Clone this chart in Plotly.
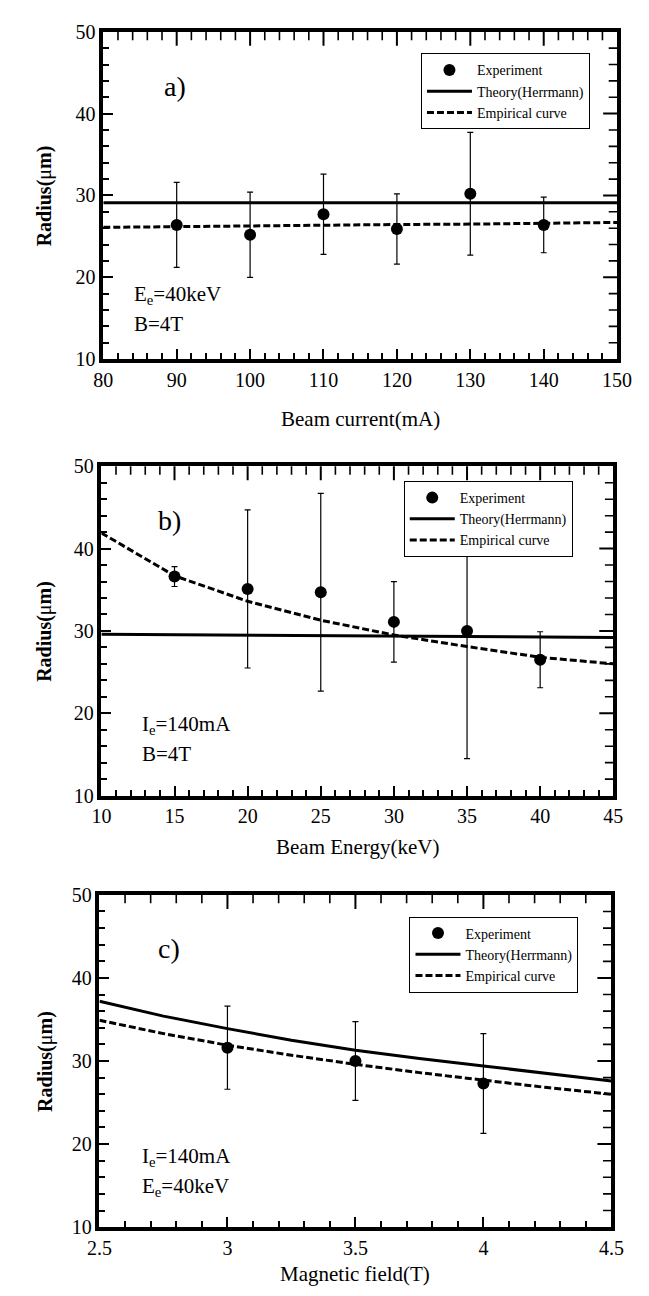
import plotly.graph_objects as go

# ---------------- data ----------------
a_x = [90, 100, 110, 120, 130, 140]
a_y = [26.4, 25.2, 27.7, 25.9, 30.2, 26.4]
a_err = [5.2, 5.2, 4.9, 4.3, 7.5, 3.4]
a_theory_x = [80, 150]
a_theory_y = [29.1, 29.1]
a_emp_x = [80, 90, 100, 110, 120, 130, 140, 150]
a_emp_y = [26.1, 26.2, 26.3, 26.4, 26.45, 26.5, 26.6, 26.7]

b_x = [15, 20, 25, 30, 35, 40]
b_y = [36.6, 35.1, 34.7, 31.1, 30.0, 26.5]
b_err = [1.2, 9.6, 12.0, 4.9, 15.5, 3.4]
b_theory_x = [10, 45]
b_theory_y = [29.6, 29.2]
b_emp_x = [10, 15, 20, 25, 30, 35, 40, 45]
b_emp_y = [41.9, 36.7, 33.6, 31.3, 29.5, 28.1, 26.8, 26.0]

c_x = [3.0, 3.5, 4.0]
c_y = [31.6, 30.0, 27.3]
c_err = [5.0, 4.75, 6.0]
c_theory_x = [2.5, 2.75, 3.0, 3.25, 3.5, 3.75, 4.0, 4.25, 4.5]
c_theory_y = [37.2, 35.4, 33.9, 32.5, 31.3, 30.3, 29.4, 28.5, 27.6]
c_emp_x = [2.5, 2.75, 3.0, 3.25, 3.5, 3.75, 4.0, 4.25, 4.5]
c_emp_y = [34.9, 33.3, 31.9, 30.7, 29.6, 28.6, 27.7, 26.8, 26.0]

names = ["Experiment", "Theory(Herrmann)", "Empirical curve"]
FONT = "Liberation Serif"

W, H = 649, 1296
geo = [
    (86, 623, 13, 346),
    (84, 619, 455, 790),
    (82, 617, 891, 1229),
]
xranges = [[80, 150], [10, 45], [2.5, 4.5]]
xdticks = [10, 5, 0.5]
xminor = [2, 1, 0.1]
yrange = [10, 50]
ydtick, yminor = 10, 2
MAJ_LEN, MIN_LEN = 10, 6

fig = go.Figure()

panels = [
    ("x", "y", "legend", a_x, a_y, a_err, a_theory_x, a_theory_y, a_emp_x, a_emp_y),
    ("x2", "y2", "legend2", b_x, b_y, b_err, b_theory_x, b_theory_y, b_emp_x, b_emp_y),
    ("x3", "y3", "legend3", c_x, c_y, c_err, c_theory_x, c_theory_y, c_emp_x, c_emp_y),
]

for i, (xa, ya, lg, px, py, pe, tx, ty, ex, ey) in enumerate(panels):
    fig.add_trace(go.Scatter(
        x=tx, y=ty, mode="lines", name=names[1], legend=lg, legendrank=2,
        line=dict(color="black", width=3), xaxis=xa, yaxis=ya))
    fig.add_trace(go.Scatter(
        x=ex, y=ey, mode="lines", name=names[2], legend=lg, legendrank=3,
        line=dict(color="black", width=3, dash="7px,3px"), xaxis=xa, yaxis=ya))
    fig.add_trace(go.Scatter(
        x=px, y=py, mode="markers", name=names[0], legend=lg, legendrank=1,
        marker=dict(color="black", size=12),
        error_y=dict(type="data", array=pe, visible=True, color="black",
                     thickness=1.2, width=3),
        xaxis=xa, yaxis=ya))

    # top and right tick marks: line-shaped markers centred on the frame,
    # half of each is clipped away so only the inner half shows
    x0, x1 = xranges[i]
    y0, y1 = yrange
    nx = round((x1 - x0) / xminor[i])
    xper = round(xdticks[i] / xminor[i])
    ny = round((y1 - y0) / yminor)
    yper = round(ydtick / yminor)
    for major in (True, False):
        L = MAJ_LEN if major else MIN_LEN
        tvx = [x0 + k * xminor[i] for k in range(1, nx) if (k % xper == 0) == major]
        tvy = [y0 + k * yminor for k in range(1, ny) if (k % yper == 0) == major]
        fig.add_trace(go.Scatter(
            x=tvx, y=[y1] * len(tvx), mode="markers", showlegend=False,
            hoverinfo="skip", cliponaxis=True,
            marker=dict(symbol="line-ns", size=2 * L, color="black",
                        line=dict(color="black", width=2 if major else 1.6)),
            xaxis=xa, yaxis=ya))
        fig.add_trace(go.Scatter(
            x=[x1] * len(tvy), y=tvy, mode="markers", showlegend=False,
            hoverinfo="skip", cliponaxis=True,
            marker=dict(symbol="line-ew", size=2 * L, color="black",
                        line=dict(color="black", width=2 if major else 1.6)),
            xaxis=xa, yaxis=ya))

tf = dict(family=FONT, size=20, color="black")

for i, (l, r, t, b) in enumerate(geo):
    sfx = "" if i == 0 else str(i + 1)
    xa = dict(domain=[l / W, r / W], range=xranges[i], dtick=xdticks[i],
              tick0=xranges[i][0], anchor="y" + sfx,
              showline=True, linecolor="black", linewidth=3.5, mirror=True,
              ticks="inside", ticklen=MAJ_LEN, tickwidth=2, tickcolor="black",
              showgrid=False, zeroline=False, tickfont=tf,
              minor=dict(ticks="inside", dtick=xminor[i], ticklen=MIN_LEN,
                         tickwidth=1.6, tickcolor="black", showgrid=False))
    ya = dict(domain=[1 - b / H, 1 - t / H], range=yrange, dtick=ydtick,
              tick0=yrange[0], anchor="x" + sfx,
              showline=True, linecolor="black", linewidth=3.5, mirror=True,
              ticks="inside", ticklen=MAJ_LEN, tickwidth=2, tickcolor="black",
              showgrid=False, zeroline=False, tickfont=tf,
              minor=dict(ticks="inside", dtick=yminor, ticklen=MIN_LEN,
                         tickwidth=1.6, tickcolor="black", showgrid=False))
    fig.update_layout(**{"xaxis" + sfx: xa, "yaxis" + sfx: ya})

leg_common = dict(bgcolor="white", bordercolor="black", borderwidth=1,
                  font=dict(family=FONT, size=14, color="black"),
                  xanchor="left", yanchor="top", itemwidth=45,
                  tracegroupgap=0, traceorder="normal")
fig.update_layout(
    legend=dict(x=418 / W, y=1 - 35 / H, **leg_common),
    legend2=dict(x=400 / W, y=1 - 470 / H, **leg_common),
    legend3=dict(x=406 / W, y=1 - 913 / H, **leg_common),
)

ann = []
labels = ["a)", "b)", "c)"]
lab_pos = [(0.114, 0.833), (0.107, 0.835), (0.11, 0.838)]
cond = [("E<sub>e</sub>=40keV", "B=4T"), ("I<sub>e</sub>=140mA", "B=4T"),
        ("I<sub>e</sub>=140mA", "E<sub>e</sub>=40keV")]
cond_pos = [(0.056, 0.196, 0.108), (0.076, 0.215, 0.126), (0.08, 0.21, 0.12)]
xtitles = ["Beam current(mA)", "Beam Energy(keV)", "Magnetic field(T)"]
xtitle_y = [407, 842, 1277]

for i in range(3):
    sfx = "" if i == 0 else str(i + 1)
    xr, yr = "x" + sfx + " domain", "y" + sfx + " domain"
    ann.append(dict(text=labels[i], x=lab_pos[i][0], y=lab_pos[i][1], xref=xr, yref=yr,
                    showarrow=False, xanchor="left", yanchor="middle",
                    font=dict(family=FONT, size=28, color="black")))
    cx, cy1, cy2 = cond_pos[i]
    for txt, cy in ((cond[i][0], cy1), (cond[i][1], cy2)):
        ann.append(dict(text=txt, x=cx, y=cy, xref=xr, yref=yr, showarrow=False,
                        xanchor="left", yanchor="middle",
                        font=dict(family=FONT, size=21, color="black")))
    l, r, t, b = geo[i]
    ann.append(dict(text=xtitles[i], x=0.5, y=1 - xtitle_y[i] / H, xref=xr, yref="paper",
                    showarrow=False, xanchor="center", yanchor="middle",
                    font=dict(family=FONT, size=21, color="black")))
    ann.append(dict(text="<b>Radius(</b>\u03bc<b>m)</b>", x=25 / W, y=1 - (t + b) / 2 / H,
                    xref="paper", yref="paper", textangle=-90, showarrow=False,
                    xanchor="center", yanchor="middle",
                    font=dict(family=FONT, size=20, color="black")))

fig.update_layout(annotations=ann, width=W, height=H,
                  margin=dict(l=0, r=0, t=0, b=0),
                  paper_bgcolor="white", plot_bgcolor="white", showlegend=True)

fig.write_html("out.html")
